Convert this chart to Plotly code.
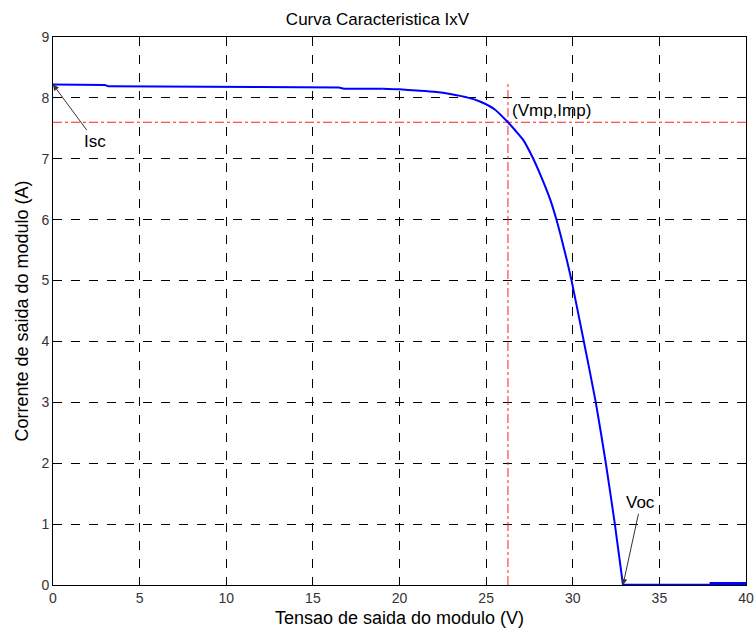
import plotly.graph_objects as go

# I-V curve
tensao = [0, 3.0, 3.2, 8, 12, 16.5, 16.8, 19, 20, 21, 22, 23, 24, 24.64, 25.5, 26.26,
          26.7, 27.14, 27.72, 28.26, 28.7, 29.06, 29.5, 29.93, 30.64, 31.33, 31.91, 32.43, 32.9, 38, 40]
corrente = [8.22, 8.21, 8.19, 8.19, 8.18, 8.17, 8.15, 8.15, 8.14, 8.12, 8.10, 8.06, 8.00, 7.94, 7.81, 7.60,
            7.46, 7.31, 7.0, 6.65, 6.33, 6.0, 5.52, 5.0, 4.0, 3.0, 2.0, 1.0, 0.0, 0.0, 0.0]
tail_x = [37.9, 40]
tail_y = [0.0, 0.0]

vmp = 26.26
imp = 7.60
isc = 8.22
voc = 32.9

x_ticks = [0, 5, 10, 15, 20, 25, 30, 35, 40]
y_ticks = [0, 1, 2, 3, 4, 5, 6, 7, 8, 9]

font = "Liberation Sans, Arial, sans-serif"

i_knee = tensao.index(19)
i_voc = tensao.index(voc)

fig = go.Figure()
fig.add_trace(go.Scatter(x=[0, 40], y=[imp, imp], mode="lines",
                         line=dict(color="#ff2020", width=1, dash="dashdot"), hoverinfo="skip"))
fig.add_trace(go.Scatter(x=[vmp, vmp], y=[0, 8.25], mode="lines",
                         line=dict(color="#ff2020", width=1, dash="dashdot"), hoverinfo="skip"))
# flat part (linear, keeps the small steps)
fig.add_trace(go.Scatter(x=tensao[:i_knee + 1], y=corrente[:i_knee + 1], mode="lines",
                         line=dict(color="blue", width=2)))
# knee (smoothed)
fig.add_trace(go.Scatter(x=tensao[i_knee:i_voc + 1], y=corrente[i_knee:i_voc + 1], mode="lines",
                         line=dict(color="blue", width=2, shape="spline", smoothing=0.5)))
# after Voc
fig.add_trace(go.Scatter(x=tensao[i_voc:], y=corrente[i_voc:], mode="lines",
                         line=dict(color="blue", width=2.5)))
fig.add_trace(go.Scatter(x=tail_x, y=tail_y, mode="lines",
                         line=dict(color="blue", width=6)))

fig.add_annotation(x=0, y=isc, ax=2.42, ay=7.29, axref="x", ayref="y", xref="x", yref="y",
                   text="Isc", showarrow=True, arrowhead=2, arrowsize=1.2, arrowwidth=1,
                   arrowcolor="#333", xanchor="center", yanchor="middle",
                   font=dict(family=font, size=17, color="black"))
fig.add_annotation(x=voc, y=0, ax=33.93, ay=1.35, axref="x", ayref="y", xref="x", yref="y",
                   text="Voc", showarrow=True, arrowhead=2, arrowsize=1.2, arrowwidth=1,
                   arrowcolor="#333", xanchor="center", yanchor="middle",
                   font=dict(family=font, size=17, color="black"))
fig.add_annotation(x=vmp + 0.12, y=7.8, xref="x", yref="y", text="(Vmp,Imp)", showarrow=False,
                   xanchor="left", yanchor="middle", font=dict(family=font, size=17, color="black"))

fig.update_layout(
    width=755, height=630,
    margin=dict(l=53, r=9, t=37, b=45),
    paper_bgcolor="white", plot_bgcolor="white",
    showlegend=False,
    title=dict(text="Curva Caracteristica IxV", x=0.5, xanchor="center", y=0.97, yanchor="middle",
               font=dict(family=font, size=17, color="black")),
    font=dict(family=font, color="black"),
)
fig.update_xaxes(range=[0, 40], tickvals=x_ticks, showline=True, linecolor="black", mirror=True,
                 linewidth=1, ticks="inside", ticklen=4, tickcolor="black", automargin=False,
                 showgrid=True, gridcolor="black", griddash="dash", gridwidth=1, zeroline=False,
                 layer="below traces",
                 tickfont=dict(size=14, color="#333"),
                 title=dict(text="Tensao de saida do modulo (V)", font=dict(size=18), standoff=6))
fig.update_yaxes(range=[0, 9], tickvals=y_ticks, showline=True, linecolor="black", mirror=True,
                 linewidth=1, ticks="inside", ticklen=4, tickcolor="black", automargin=False,
                 showgrid=True, gridcolor="black", griddash="dash", gridwidth=1, zeroline=False,
                 layer="below traces",
                 tickfont=dict(size=14, color="#333"),
                 title=dict(text="Corrente de saida do modulo (A)", font=dict(size=18), standoff=8))

fig.write_html("out.html")
